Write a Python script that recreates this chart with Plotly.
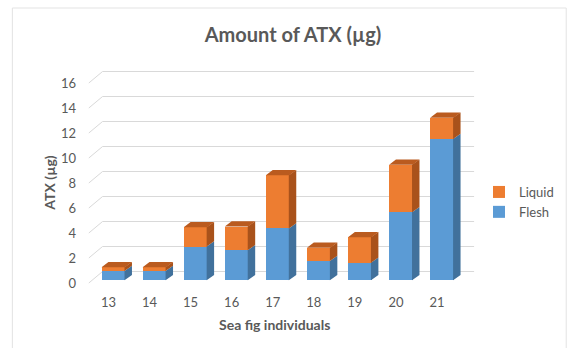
import plotly.graph_objects as go

# ---- data ----
individuals = ["13", "14", "15", "16", "17", "18", "19", "20", "21"]
flesh = [0.75, 0.75, 2.7, 2.4, 4.15, 1.55, 1.4, 5.45, 11.3]
liquid = [0.3, 0.3, 1.55, 1.9, 4.25, 1.05, 2.05, 3.8, 1.7]
y_ticks = [0, 2, 4, 6, 8, 10, 12, 14, 16]

# ---- colours ----
FLESH = "#5B9BD5"
FLESH_SIDE = "#41719C"
LIQUID = "#ED7D31"
LIQUID_SIDE = "#A9521B"
LIQUID_TOP = "#BA5B1F"
GRID = "#D9D9D9"
TEXT = "#595959"
FONT = "Lato"

# ---- page / plot geometry (pixels) ----
W, H = 571, 348
L, R, T, B = 80, 486, 60, 290
X0_PX, XU = 114.0, 41.9          # centre of first bar, px per category
Y0_PX, YU = 280.3, 12.5          # zero of bar faces, px per unit

xa = (L - X0_PX) / XU
xb = xa + (R - L) / XU
ya = (Y0_PX - B) / YU
yb = ya + (B - T) / YU

# 3-D depth offsets expressed in data units
bar_w = 24 / XU
ddx, ddy = 7 / XU, 5.3 / YU
seam = 0.6 / XU                  # slight overlap so faces join without a gap
front_dy = -2.7 / YU             # plane where the axis labels sit
back_dy = 8.8 / YU               # back wall
x_front = (89 - X0_PX) / XU
x_back0 = (103 - X0_PX) / XU
x_back1 = (482 - X0_PX) / XU
label_dx = -5 / XU

xs = list(range(len(individuals)))
totals = [f + l for f, l in zip(flesh, liquid)]

fig = go.Figure()

# back-wall gridlines with their diagonal lead-ins (kept beneath the bars)
grid_shapes = []
for v in y_ticks:
    path = (f"M{x_front},{v + front_dy} L{x_back0},{v + back_dy} "
            f"L{x_back1},{v + back_dy}")
    grid_shapes.append(dict(type="path", path=path, xref="x", yref="y", layer="below",
                            line=dict(color=GRID, width=1)))

# front faces
fig.add_trace(go.Bar(x=xs, y=flesh, name="Flesh", marker=dict(color=FLESH, line=dict(width=0)),
                     width=bar_w, legendgroup="f"))
fig.add_trace(go.Bar(x=xs, y=liquid, name="Liquid", marker=dict(color=LIQUID, line=dict(width=0)),
                     width=bar_w, legendgroup="l"))


def side_faces(bottoms, tops):
    px, py = [], []
    for x, y0, y1 in zip(xs, bottoms, tops):
        xr = x + bar_w / 2 - seam
        px += [xr, xr + ddx + seam, xr + ddx + seam, xr, xr, None]
        py += [y0, y0 + ddy, y1 + ddy, y1, y0, None]
    return px, py


sx, sy = side_faces([0] * len(xs), flesh)
fig.add_trace(go.Scatter(x=sx, y=sy, mode="lines", fill="toself", fillcolor=FLESH_SIDE,
                         line=dict(width=0, color=FLESH_SIDE), hoverinfo="skip", showlegend=False))
sx, sy = side_faces(flesh, totals)
fig.add_trace(go.Scatter(x=sx, y=sy, mode="lines", fill="toself", fillcolor=LIQUID_SIDE,
                         line=dict(width=0, color=LIQUID_SIDE), hoverinfo="skip", showlegend=False))

# top faces
tx, ty = [], []
for x, t in zip(xs, totals):
    xl, xr = x - bar_w / 2, x + bar_w / 2
    tx += [xl, xr, xr + ddx, xl + ddx, xl, None]
    ty += [t, t, t + ddy, t + ddy, t, None]
fig.add_trace(go.Scatter(x=tx, y=ty, mode="lines", fill="toself", fillcolor=LIQUID_TOP,
                         line=dict(width=0, color=LIQUID_TOP), hoverinfo="skip", showlegend=False))

# carrier for the labelled front-plane axes
fig.add_trace(go.Scatter(x=[], y=[], xaxis="x2", yaxis="y2", showlegend=False, hoverinfo="skip"))

tick_font = dict(family=FONT, size=13, color=TEXT)
hidden = dict(showgrid=False, zeroline=False, showline=False, showticklabels=False, ticks="")

frame = dict(type="rect", xref="paper", yref="paper", layer="below",
             x0=(11 - L) / (R - L), x1=(W + 5 - L) / (R - L),
             y0=(B - (H + 5)) / (B - T), y1=(B - 8) / (B - T),
             line=dict(color="#E3E3E3", width=1), fillcolor="rgba(0,0,0,0)")

fig.update_layout(
    width=W, height=H,
    margin=dict(l=L, r=W - R, t=T, b=H - B, pad=0),
    paper_bgcolor="white", plot_bgcolor="white",
    barmode="stack", bargap=0,
    xaxis=dict(range=[xa, xb], **hidden),
    yaxis=dict(range=[ya, yb], **hidden),
    xaxis2=dict(overlaying="x", anchor="y2", side="bottom",
                range=[xa - label_dx, xb - label_dx],
                tickmode="array", tickvals=xs, ticktext=individuals,
                showgrid=False, zeroline=False, showline=False, ticks="",
                tickfont=tick_font, ticklabelstandoff=3),
    yaxis2=dict(overlaying="y", anchor="x2", side="left",
                range=[ya - front_dy, yb - front_dy],
                tickmode="array", tickvals=y_ticks,
                showgrid=False, zeroline=False, showline=False, ticks="",
                tickfont=tick_font, ticklabelstandoff=3),
    title=dict(text="<b>Amount of ATX (µg)</b>", x=293 / W, xanchor="center",
               y=1 - 35 / H, yanchor="middle", yref="container",
               font=dict(family=FONT, size=20, color=TEXT)),
    legend=dict(x=(487 - L) / (R - L), xanchor="left", y=(B - 202) / (B - T), yanchor="middle",
                traceorder="reversed", tracegroupgap=10,
                font=dict(family=FONT, size=13, color=TEXT), bgcolor="rgba(0,0,0,0)"),
    annotations=[
        dict(text="<b>Sea fig individuals</b>", xref="paper", yref="paper",
             x=(278 - L) / (R - L), y=(B - 324) / (B - T), xanchor="center", yanchor="middle",
             showarrow=False, font=dict(family=FONT, size=14, color=TEXT)),
        dict(text="<b>ATX (µg)</b>", xref="paper", yref="paper", textangle=-90,
             x=(48 - L) / (R - L), y=(B - 183) / (B - T), xanchor="center", yanchor="middle",
             showarrow=False, font=dict(family=FONT, size=14, color=TEXT)),
    ],
    shapes=grid_shapes + [frame],
)

fig.write_html("out.html")
